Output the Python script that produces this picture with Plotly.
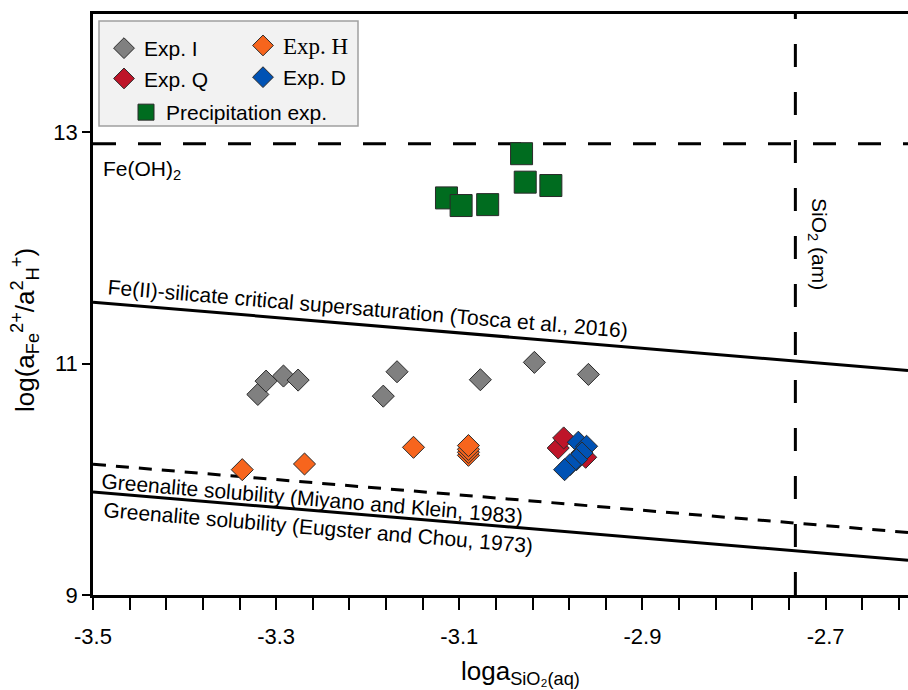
import plotly.graph_objects as go

# ---------------- data ----------------
exp_i_x = [-3.320, -3.311, -3.292, -3.276, -3.168, -3.183, -3.077, -3.018, -2.959]
exp_i_y = [10.733, 10.848, 10.892, 10.857, 10.929, 10.718, 10.860, 11.010, 10.906]

exp_h_x = [-3.337, -3.269, -3.150, -3.090, -3.090, -3.090, -3.090]
exp_h_y = [10.083, 10.132, 10.276, 10.207, 10.233, 10.259, 10.291]

exp_q_x = [-2.962, -2.992, -2.986]
exp_q_y = [10.190, 10.270, 10.357]

exp_d_x = [-2.970, -2.961, -2.966, -2.972, -2.979, -2.985]
exp_d_y = [10.320, 10.285, 10.227, 10.170, 10.127, 10.083]

precip_x = [-3.114, -3.098, -3.069, -3.032, -3.028, -3.000]
precip_y = [12.431, 12.365, 12.373, 12.813, 12.567, 12.538]

line_x = [-3.5, -2.61]
tosca_y = [11.53, 10.94]
miyano_y = [10.13, 9.54]
eugster_y = [9.89, 9.30]
feoh2_y = 12.9
sio2_am_x = -2.733

x_ticks = [-3.5, -3.3, -3.1, -2.9, -2.7]
x_tick_text = ["-3.5", "-3.3", "-3.1", "-2.9", "-2.7"]
y_ticks = [9, 11, 13]
y_tick_text = ["9", "11", "13"]

SANS = "Liberation Sans, Arial, sans-serif"
SERIF = "Liberation Serif, Times New Roman, serif"
EDGE = dict(color="#2a2a2a", width=1)

fig = go.Figure()

# reference lines
fig.add_trace(go.Scatter(x=line_x, y=[feoh2_y, feoh2_y], mode="lines",
                         line=dict(color="black", width=3, dash="23px,22px"),
                         showlegend=False, hoverinfo="skip"))
fig.add_trace(go.Scatter(x=[sio2_am_x, sio2_am_x], y=[9, 14.02], mode="lines",
                         line=dict(color="black", width=3, dash="23px,25px"),
                         showlegend=False, hoverinfo="skip"))
fig.add_trace(go.Scatter(x=line_x, y=tosca_y, mode="lines",
                         line=dict(color="black", width=3),
                         showlegend=False, hoverinfo="skip"))
fig.add_trace(go.Scatter(x=line_x, y=miyano_y, mode="lines",
                         line=dict(color="black", width=3, dash="13px,10px"),
                         showlegend=False, hoverinfo="skip"))
fig.add_trace(go.Scatter(x=line_x, y=eugster_y, mode="lines",
                         line=dict(color="black", width=3),
                         showlegend=False, hoverinfo="skip"))

# data points
fig.add_trace(go.Scatter(x=exp_i_x, y=exp_i_y, mode="markers", name="Exp. I",
                         marker=dict(symbol="diamond", size=17, color="#808080", line=EDGE),
                         legend="legend"))
fig.add_trace(go.Scatter(x=exp_h_x, y=exp_h_y, mode="markers", name="Exp. H",
                         marker=dict(symbol="diamond", size=17, color="#F7651D", line=EDGE),
                         legend="legend2"))
fig.add_trace(go.Scatter(x=exp_q_x, y=exp_q_y, mode="markers", name="Exp. Q",
                         marker=dict(symbol="diamond", size=17, color="#BE1529", line=EDGE),
                         legend="legend"))
fig.add_trace(go.Scatter(x=exp_d_x, y=exp_d_y, mode="markers", name="Exp. D",
                         marker=dict(symbol="diamond", size=17, color="#0052B4", line=EDGE),
                         legend="legend3"))
fig.add_trace(go.Scatter(x=precip_x, y=precip_y, mode="markers", name="Precipitation exp.",
                         marker=dict(symbol="square", size=22, color="#006C1F", line=EDGE),
                         legend="legend4"))

W, H = 908, 690
ML, MR, MT, MB = 93, 0, 14, 95
PW, PH = W - ML - MR, H - MT - MB


def px(x):
    return (x - ML) / PW


def py(y):
    return (H - MB - y) / PH


leg_common = dict(bgcolor="rgba(0,0,0,0)", borderwidth=0, itemsizing="trace",
                  xanchor="left", yanchor="top", orientation="v")

fig.update_layout(
    width=W, height=H,
    margin=dict(l=ML, r=MR, t=MT, b=MB, pad=0),
    paper_bgcolor="white", plot_bgcolor="white",
    font=dict(family=SANS, color="black", size=21),
    xaxis=dict(range=[-3.5, -2.61], tickmode="array", tickvals=x_ticks, ticktext=x_tick_text,
               ticks="outside", ticklen=12, tickwidth=2, tickcolor="black",
               showline=True, linewidth=2.5, linecolor="black", mirror=True,
               showgrid=False, zeroline=False, tickfont=dict(size=22),
               ticklabelstandoff=8,
               minor=dict(tick0=-3.5, dtick=0.04, ticks="outside", ticklen=12,
                          tickwidth=2, tickcolor="black", showgrid=False)),
    yaxis=dict(range=[9, 14.02], tickmode="array", tickvals=y_ticks, ticktext=y_tick_text,
               ticks="outside", ticklen=8, tickwidth=2, tickcolor="black",
               showline=True, linewidth=2.5, linecolor="black", mirror=False,
               showgrid=False, zeroline=False, tickfont=dict(size=22)),
    legend=dict(x=px(104), y=py(28), font=dict(family=SANS, size=21), **leg_common),
    legend2=dict(x=px(243), y=py(24), font=dict(family=SERIF, size=23), **leg_common),
    legend3=dict(x=px(243), y=py(57), font=dict(family=SANS, size=21), **leg_common),
    legend4=dict(x=px(126), y=py(92), font=dict(family=SANS, size=21), **leg_common),
    shapes=[dict(type="rect", xref="paper", yref="paper",
                 x0=px(99), x1=px(358), y0=py(126), y1=py(21),
                 fillcolor="#f2f2f2", line=dict(color="#a0a0a0", width=1.5), layer="below")],
    annotations=[
        dict(text="Fe(OH)<sub>2</sub>", xref="paper", yref="paper", x=px(101), y=py(170),
             xanchor="left", yanchor="middle", showarrow=False, font=dict(size=21)),
        dict(text="Fe(II)-silicate critical supersaturation (Tosca et al., 2016)",
             xref="paper", yref="paper", x=px(368), y=py(308), textangle=4.8,
             xanchor="center", yanchor="middle", showarrow=False, font=dict(size=21)),
        dict(text="Greenalite solubility (Miyano and Klein, 1983)",
             xref="paper", yref="paper", x=px(312), y=py(498), textangle=4.8,
             xanchor="center", yanchor="middle", showarrow=False, font=dict(size=21)),
        dict(text="Greenalite solubility (Eugster and Chou, 1973)",
             xref="paper", yref="paper", x=px(318), y=py(527), textangle=4.8,
             xanchor="center", yanchor="middle", showarrow=False, font=dict(size=21)),
        dict(text="SiO<sub>2</sub> (am)", xref="paper", yref="paper", x=px(818), y=py(244),
             textangle=90, xanchor="center", yanchor="middle", showarrow=False,
             font=dict(size=21)),
        dict(text="loga<sub>SiO₂(aq)</sub>", xref="paper", yref="paper", x=px(520), y=py(672),
             xanchor="center", yanchor="middle", showarrow=False, font=dict(size=26)),
        dict(text="log(a<sub>Fe</sub><sup>2+</sup>/a<sup>2</sup><sub>H</sub><sup>+</sup>)",
             xref="paper", yref="paper", x=px(25), y=py(330), textangle=-90,
             xanchor="center", yanchor="middle", showarrow=False, font=dict(size=26)),
    ],
)

fig.write_html("out.html")
